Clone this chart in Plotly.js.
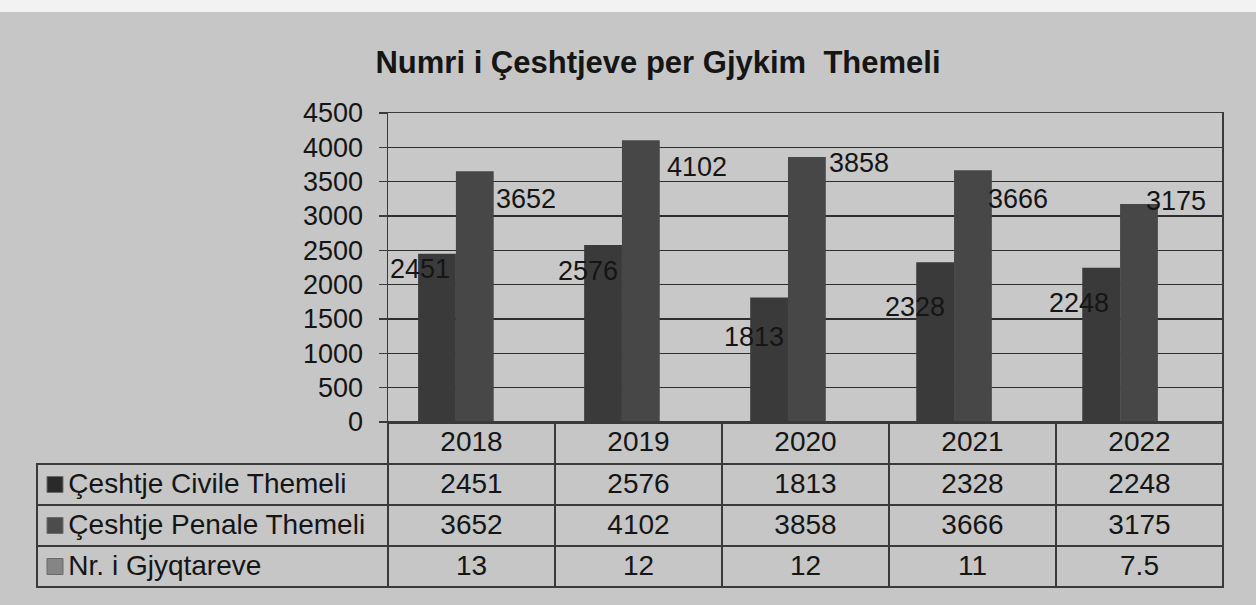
<!DOCTYPE html>
<html>
<head>
<meta charset="utf-8">
<script src="https://cdn.plot.ly/plotly-3.0.1.min.js"></script>
<style>
html,body{margin:0;padding:0;background:#c6c6c6;}
#chart{width:1256px;height:605px;}
</style>
</head>
<body>
<div id="chart"></div>
<script>
// ---- data ----
const years = ['2018', '2019', '2020', '2021', '2022'];
const seriesNames = ['Çeshtje Civile Themeli', 'Çeshtje Penale Themeli', 'Nr. i Gjyqtareve'];
const civile = [2451, 2576, 1813, 2328, 2248];
const penale = [3652, 4102, 3858, 3666, 3175];
const gjyqtare = [13, 12, 12, 11, 7.5];
const yTicks = [0, 500, 1000, 1500, 2000, 2500, 3000, 3500, 4000, 4500];
const titleText = 'Numri i Çeshtjeve per Gjykim  Themeli';

// ---- styles ----
const W = 1256, H = 605;
const FONT = 'Liberation Sans, Arial, sans-serif';
const ink = '#151515';
const colors = ['#3a3a3a', '#474747', '#7a7a7a'];
const swatch = ['#2a2a2a', '#4c4c4c', '#858585'];
const bargap = 0.317;
// label pixel offsets relative to bar top-centre (civil, penal)
const civOff = [[-17, -15], [-15, -26], [-15, -39], [-20, -45], [-22, -35]];
const penOff = [[51, -28], [56, -27], [52, -6], [45, -29], [37, 3]];

const plot = {x0: 388, x1: 1222, y0: 113, y1: 422};
const headerH = 42, rowH = 41;

const allSeries = [civile, penale, gjyqtare];
const traces = allSeries.map((vals, k) => ({
  type: 'bar', x: years, y: vals, name: seriesNames[k],
  marker: {color: colors[k], line: {width: 0}},
  hoverinfo: 'x+y+name', showlegend: false
}));

// table trace
const tableCols = [seriesNames.map(n => '   ' + n)];
years.forEach((y, i) => tableCols.push(allSeries.map(s => String(s[i]))));
const lineCol = '#3a3a3a';
traces.push({
  type: 'table',
  domain: {x: [37 / W, 1223 / W], y: [0.0, 1 - plot.y1 / H]},
  columnwidth: [351, 167, 167, 167, 167, 167],
  header: {
    values: ['', ...years],
    height: headerH,
    align: 'center',
    fill: {color: 'rgba(0,0,0,0)'},
    line: {color: ['rgba(0,0,0,0)', lineCol, lineCol, lineCol, lineCol, lineCol], width: 1.5},
    font: {family: FONT, size: 28, color: ink}
  },
  cells: {
    values: tableCols,
    height: rowH,
    align: ['left', 'center', 'center', 'center', 'center', 'center'],
    fill: {color: 'rgba(0,0,0,0)'},
    line: {color: lineCol, width: 1.5},
    font: {family: FONT, size: 28, color: ink}
  }
});

// value labels
const slot = (1 - bargap) / 3;
const annotations = [];
years.forEach((y, i) => {
  annotations.push({x: i - slot, y: civile[i], xref: 'x', yref: 'y', text: String(civile[i]),
    showarrow: false, xshift: civOff[i][0], yshift: civOff[i][1],
    font: {family: FONT, size: 27, color: ink}});
  annotations.push({x: i, y: penale[i], xref: 'x', yref: 'y', text: String(penale[i]),
    showarrow: false, xshift: penOff[i][0], yshift: penOff[i][1],
    font: {family: FONT, size: 27, color: ink}});
});
// legend keys in the table's first column
const shapes = [
  {type: 'rect', xref: 'paper', yref: 'paper', x0: 0, x1: 1, y0: 1 - 12 / H, y1: 1,
    fillcolor: '#f2f2f2', line: {width: 0}, layer: 'below'}
];
seriesNames.forEach((n, k) => {
  const cy = plot.y1 + headerH + rowH * k + rowH / 2;
  shapes.push({type: 'rect', xref: 'paper', yref: 'paper',
    x0: 47 / W, x1: 63 / W, y0: 1 - (cy + 8) / H, y1: 1 - (cy - 8) / H,
    fillcolor: swatch[k], line: {color: '#6a6a6a', width: 1}});
});

const layout = {
  width: W, height: H,
  margin: {l: 0, r: 0, t: 0, b: 0},
  paper_bgcolor: '#c6c6c6',
  plot_bgcolor: '#c8c8c8',
  barmode: 'group', bargap: bargap, bargroupgap: 0,
  title: {text: '<b>' + titleText + '</b>', x: 658 / W, xref: 'container', xanchor: 'center',
    y: 1 - 62 / H, yref: 'container', yanchor: 'middle',
    font: {family: FONT, size: 31, color: ink}},
  xaxis: {type: 'category', domain: [plot.x0 / W, plot.x1 / W], showticklabels: false, ticks: '',
    showline: true, linecolor: lineCol, linewidth: 1.5, mirror: true, showgrid: false, fixedrange: true},
  yaxis: {domain: [1 - plot.y1 / H, 1 - plot.y0 / H], range: [0, 4500], tickvals: yTicks,
    ticktext: yTicks.map(String), ticks: 'outside', ticklen: 8, tickcolor: lineCol, tickwidth: 1.5,
    showline: true, linecolor: lineCol, linewidth: 1.5, mirror: true,
    showgrid: true, gridcolor: '#2e2e2e', gridwidth: 1.5, zeroline: false,
    ticklabelstandoff: 10,
    tickfont: {family: FONT, size: 27, color: ink}, fixedrange: true},
  annotations: annotations,
  shapes: shapes
};

Plotly.newPlot('chart', traces, layout, {displayModeBar: false, staticPlot: true});
</script>
</body>
</html>
